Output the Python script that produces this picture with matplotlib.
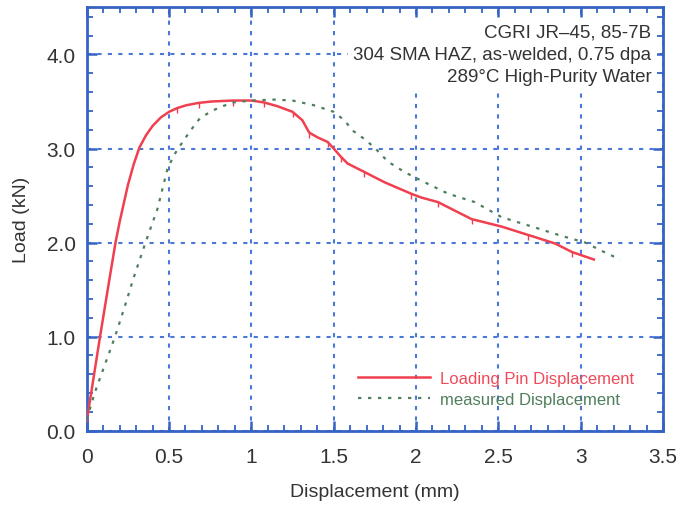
import matplotlib.pyplot as plt
from matplotlib.ticker import MultipleLocator, FormatStrFormatter, FuncFormatter

plt.rcParams['font.family'] = ['Liberation Sans', 'DejaVu Sans']

# Loading pin displacement (mm) vs load (kN)
pin_disp = [0.0, 0.081, 0.138, 0.175, 0.20, 0.25, 0.285, 0.32, 0.36, 0.40, 0.45, 0.50,
            0.55, 0.605, 0.68, 0.76, 0.89,
            1.0, 1.077, 1.158, 1.25, 1.31, 1.351, 1.40, 1.463, 1.50, 1.545, 1.585,
            1.687, 1.81, 1.97, 2.03, 2.134, 2.235, 2.337, 2.52, 2.683, 2.845, 2.947, 3.08]
pin_load = [0.10, 1.0, 1.61, 2.0, 2.22, 2.61, 2.83, 3.01, 3.14, 3.24, 3.33, 3.39,
            3.43, 3.46, 3.485, 3.50, 3.51,
            3.51, 3.49, 3.45, 3.39, 3.30, 3.17, 3.12, 3.07, 3.00, 2.91, 2.84,
            2.75, 2.64, 2.52, 2.48, 2.43, 2.34, 2.25, 2.17, 2.08, 1.99, 1.90, 1.82]

# measured displacement (mm) vs load (kN)
meas_disp = [0.0, 0.05, 0.172, 0.233, 0.284, 0.357, 0.43, 0.49, 0.53, 0.575, 0.63, 0.687,
             0.75, 0.81, 0.89,
             1.0, 1.138, 1.25, 1.38, 1.50, 1.565, 1.616, 1.687, 1.748, 1.83, 1.93, 2.03,
             2.195, 2.357, 2.52, 2.723, 2.886, 3.028, 3.13, 3.24]
meas_load = [0.12, 0.41, 1.0, 1.33, 1.62, 2.0, 2.36, 2.78, 2.93, 3.05, 3.19, 3.32,
             3.39, 3.44, 3.49,
             3.51, 3.52, 3.51, 3.46, 3.39, 3.30, 3.19, 3.10, 3.01, 2.86, 2.75, 2.66,
             2.52, 2.43, 2.27, 2.16, 2.07, 2.00, 1.91, 1.82]

notes = ["CGRI JR\u201345, 85-7B", "304 SMA HAZ, as-welded, 0.75 dpa",
         "289\u00b0C High-Purity Water"]

blue = '#3563c4'
grid_blue = '#4a78d8'
red = '#f0404f'
green = '#4f7f5c'
text_c = '#333333'

fig = plt.figure(figsize=(6.8, 5.1), dpi=100)
ax = fig.add_axes([0.1275, 0.1535, 0.8475, 0.83])

ax.plot(pin_disp, pin_load, color=red, lw=1.8, label='Loading Pin Displacement', zorder=3)
ax.plot(pin_disp[12:-1:2], pin_load[12:-1:2], ls='none', marker=3, ms=3.5, mew=1,
        color=red, zorder=3)
ax.plot(meas_disp, meas_load, color=green, lw=1.6, ls=(0, (1.5, 3)),
        label='measured Displacement', zorder=3)

ax.set_xlim(0, 3.5)
ax.set_ylim(0, 4.5)
ax.xaxis.set_major_locator(MultipleLocator(0.5))
ax.xaxis.set_minor_locator(MultipleLocator(0.1))
ax.yaxis.set_major_locator(MultipleLocator(1.0))
ax.yaxis.set_minor_locator(MultipleLocator(0.2))
ax.xaxis.set_major_formatter(FuncFormatter(lambda v, p: f"{v:g}"))
ax.yaxis.set_major_formatter(FormatStrFormatter('%.1f'))

for s in ax.spines.values():
    s.set_color(blue)
    s.set_linewidth(2)
ax.tick_params(which='both', direction='in', top=True, right=True, color=blue,
               labelsize=15, labelcolor=text_c)
ax.tick_params(axis='x', pad=12)
ax.tick_params(axis='y', pad=8)
ax.tick_params(which='major', length=7, width=1.8)
ax.tick_params(which='minor', length=4, width=1.3)
ax.grid(True, which='major', color=grid_blue, ls=(0, (2, 3)), lw=1.5)

ax.set_xlabel('Displacement (mm)', fontsize=14, color=text_c, labelpad=12)
ax.set_ylabel('Load (kN)', fontsize=14, color=text_c, labelpad=12)

ax.text(0.98, 0.962, "\n".join(notes), transform=ax.transAxes, ha='right', va='top',
        fontsize=13.5, color=text_c, linespacing=1.42,
        bbox=dict(facecolor='white', edgecolor='none', pad=4))

leg = ax.legend(loc='lower right', bbox_to_anchor=(0.976, 0.02), frameon=False,
                fontsize=12, handlelength=4.3, handletextpad=0.6, labelspacing=0.4)
for t, c in zip(leg.get_texts(), ['#f04a5a', green]):
    t.set_color(c)

fig.savefig('out.png', dpi=100)
